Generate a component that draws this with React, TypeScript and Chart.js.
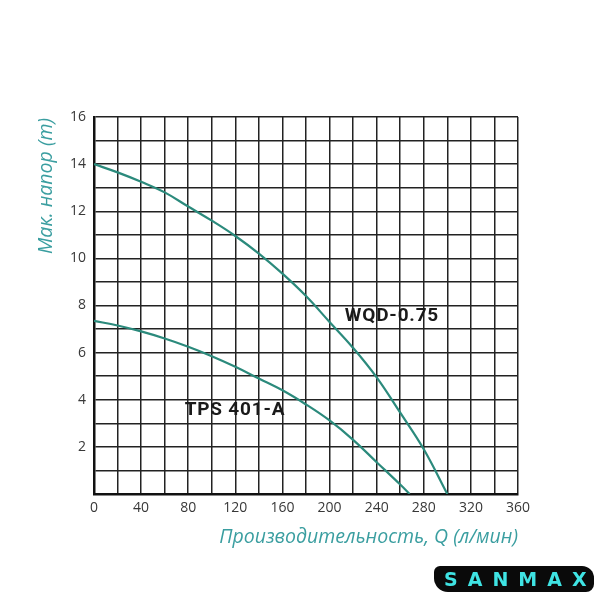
import React, { useEffect, useRef } from "react";
import { Chart, registerables } from "chart.js";

Chart.register(...registerables);

const wqdQ = [0, 20, 40, 60, 80, 100, 120, 140, 160, 180, 200, 220, 240, 260, 280, 300];
const wqdH = [14, 13.65, 13.25, 12.8, 12.2, 11.6, 10.95, 10.2, 9.35, 8.4, 7.3, 6.2, 4.95, 3.45, 1.9, 0];
const tpsQ = [0, 20, 40, 60, 80, 100, 120, 140, 160, 180, 200, 220, 240, 260, 268];
const tpsH = [7.35, 7.15, 6.9, 6.6, 6.25, 5.85, 5.4, 4.9, 4.4, 3.8, 3.12, 2.3, 1.35, 0.4, 0];
const seriesNames = ["WQD-0.75", "TPS 401-A"];
const labelPos = [
  { x: 213, y: 7.55 },
  { x: 77, y: 3.55 },
];
const xTitle = "Производительность, Q (л/мин)";
const yTitle = "Мак. напор (m)";

const CURVE = "#2b8a7c";
const TEAL = "#3a9ea0";

const labelsPlugin = {
  id: "curveLabels",
  afterDatasetsDraw(chart: any) {
    const { ctx, scales } = chart;
    ctx.save();
    ctx.fillStyle = "#1a1a1a";
    ctx.font = "bold 19px Roboto, 'Liberation Sans', sans-serif";
    (ctx as any).letterSpacing = "0.8px";
    ctx.textAlign = "left";
    ctx.textBaseline = "middle";
    seriesNames.forEach((n, i) => {
      ctx.fillText(n, scales.x.getPixelForValue(labelPos[i].x), scales.y.getPixelForValue(labelPos[i].y));
    });
    (ctx as any).letterSpacing = "0px";
    // y title
    ctx.fillStyle = TEAL;
    ctx.font = "italic 19.5px 'Open Sans', sans-serif";
    ctx.translate(46, 118);
    ctx.rotate(-Math.PI / 2);
    ctx.textAlign = "right";
    ctx.fillText(yTitle, 0, 0);
    ctx.restore();
  },
};

export default function App() {
  const ref = useRef<HTMLCanvasElement>(null);
  useEffect(() => {
    const chart = new Chart(ref.current!, {
      type: "line",
      data: {
        datasets: [
          {
            label: seriesNames[0],
            data: wqdQ.map((q, i) => ({ x: q, y: wqdH[i] })),
            borderColor: CURVE,
            borderWidth: 2.2,
            pointRadius: 0,
            tension: 0.4,
            fill: false,
          },
          {
            label: seriesNames[1],
            data: tpsQ.map((q, i) => ({ x: q, y: tpsH[i] })),
            borderColor: CURVE,
            borderWidth: 2.2,
            pointRadius: 0,
            tension: 0.4,
            fill: false,
          },
        ],
      },
      options: {
        animation: false,
        responsive: false,
        maintainAspectRatio: false,
        layout: { padding: { left: 0, top: 117, right: 82, bottom: 0 } },
        plugins: { legend: { display: false }, tooltip: { enabled: false } },
        scales: {
          x: {
            type: "linear",
            min: 0,
            max: 360,
            afterFit: (s: any) => {
              s.height = 106;
            },
            ticks: {
              stepSize: 20,
              autoSkip: false,
              maxRotation: 0,
              padding: 6,
              color: "#383838",
              font: { family: "'Open Sans', sans-serif", size: 14 },
              callback: (v: any) => (Number(v) % 40 === 0 ? String(v) : ""),
            },
            grid: { color: "#222", lineWidth: 1.5, drawTicks: false },
            border: { color: "#111", width: 2.5 },
            title: {
              display: true,
              text: xTitle,
              align: "end",
              color: TEAL,
              font: { family: "'Open Sans', sans-serif", size: 19.5, style: "italic" },
              padding: { top: 0, bottom: 51 },
            },
          },
          y: {
            type: "linear",
            min: 0,
            max: 16,
            afterFit: (s: any) => {
              s.width = 94;
            },
            ticks: {
              stepSize: 1,
              autoSkip: false,
              padding: 8,
              color: "#383838",
              font: { family: "'Open Sans', sans-serif", size: 14 },
              callback: (v: any) => (Number(v) % 2 === 0 && Number(v) !== 0 ? String(v) : ""),
            },
            grid: { color: "#222", lineWidth: 1.5, drawTicks: false },
            border: { color: "#111", width: 2.5 },
          },
        },
      },
      plugins: [labelsPlugin],
    } as any);
    return () => chart.destroy();
  }, []);
  return (
    <div style={{ position: "fixed", left: 0, top: 0, width: 600, height: 600, background: "#fff" }}>
      <canvas ref={ref} width={600} height={600} style={{ display: "block" }} />
      <div
        style={{
          position: "absolute",
          left: 434,
          top: 566,
          width: 160,
          height: 26,
          background: "#0a0a0a",
          borderRadius: "6px 12px 8px 14px",
          color: "#3fe3e3",
          fontFamily: "'DejaVu Sans', sans-serif",
          fontWeight: "bold",
          fontSize: 19,
          letterSpacing: 10,
          lineHeight: "26px",
          textAlign: "center",
          paddingLeft: 10,
          boxSizing: "border-box",
        }}
      >
        SANMAX
      </div>
    </div>
  );
}
